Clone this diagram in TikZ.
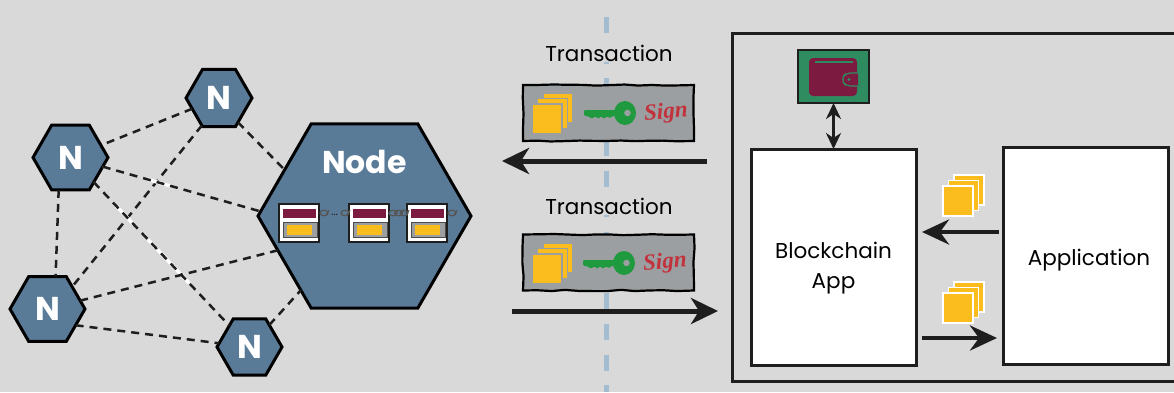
\documentclass[tikz,border=0pt]{standalone}
\usepackage{fontspec}
\setmainfont{Poppins}
\newfontfamily\signfont{Liberation Serif}
\usetikzlibrary{arrows.meta, shapes.geometric, decorations.pathmorphing}
\definecolor{bggrey}{HTML}{D9D9D9}
\definecolor{hexblue}{HTML}{5A7B98}
\definecolor{splitblue}{HTML}{A3BCCF}
\definecolor{linkdark}{HTML}{1E1E1E}
\definecolor{boxgrey}{HTML}{9C9FA1}
\definecolor{docyellow}{HTML}{FBBC1E}
\definecolor{wine}{HTML}{7D1A40}
\definecolor{keygreen}{HTML}{1F9A3E}
\definecolor{walletgreen}{HTML}{2F8C61}
\definecolor{signred}{HTML}{C2323C}
\tikzset{
  hexnode/.style={regular polygon, regular polygon sides=6, draw=black, fill=hexblue, line width=3pt,
    inner sep=0pt, outer sep=0pt, text=white, font=\bfseries\fontsize{33}{33}\selectfont},
  peer/.style={draw=linkdark, line width=2.5pt, dash pattern=on 8pt off 6pt},
  whiteglint/.style={preaction={draw=white, line width=3.5pt, dash pattern=#1}},
  txlabel/.style={fill=bggrey, inner sep=1pt, font=\fontsize{21.5}{24}\selectfont},
  txbox/.style={draw=black, fill=boxgrey, line width=2.2pt, minimum width=171pt, minimum height=56pt,
    inner sep=0pt, outer sep=0pt, decorate, decoration={random steps, segment length=14pt, amplitude=.7pt}},
  appbox/.style={draw=linkdark, fill=white, line width=3pt, inner sep=0pt, outer sep=0pt},
  apptext/.style={align=center, font=\fontsize{21.5}{29.5}\selectfont},
  bigarrow/.style={draw=linkdark, line width=5pt, -{Stealth[length=27pt, width=26pt, inset=8pt]}},
  midarrow/.style={draw=linkdark, line width=4.6pt, -{Stealth[length=27pt, width=25pt, inset=9pt]}},
  pics/stack/.style={code={
    \foreach \d in {11,5.5,0}
      \draw[draw=#1, fill=docyellow, line width=1.2pt] (\d,-\d) rectangle ++(30,30);
  }},
  pics/block/.style={code={
    \draw[draw=linkdark, fill=white, line width=1.2pt] (0,0) rectangle (40,38);
    \fill[wine] (4,5) rectangle (37,14);
    \draw[draw=linkdark!80, fill=boxgrey, line width=1pt] (4,18) rectangle (38,33);
    \fill[docyellow] (8,20.5) rectangle (33,30.5);
  }},
  pics/chainlink/.style={code={
    \foreach \d in {0,...,#1} {
      \draw[draw=linkdark!75, line width=1.2pt] (\d*5.5,0) ellipse (4 and 2.8);
      \draw[draw=linkdark!75, line width=1.2pt] (\d*5.5+1.5,2.8) -- ++(3.5,-5.6);
    }
  }},
  pics/key/.style={code={
    \fill[keygreen, even odd rule] (0,0) ellipse (11 and 12) (2.5,0) circle (3.4);
    \fill[keygreen, rounded corners=1.2pt] (-41,-3) -- (-8,-3) -- (-8,3) -- (-13,3) -- (-15,5.5)
      -- (-18,3) -- (-21,6) -- (-24,3) -- (-27,6) -- (-30,3) -- (-33,6) -- (-36,3.5) -- (-41,2.5) -- cycle;
  }}
}
\begin{document}
\begin{tikzpicture}[x=1pt, y=-1pt]
  \path[use as bounding box, fill=bggrey] (0,0) rectangle (1174,392);
  % split line
  \draw[draw=splitblue, line width=5.5pt, dash pattern=on 16pt off 14.7pt] (606.5,17) -- (606.5,392);

  % peers
  \node[hexnode, minimum size=213pt] (nodehex) at (364.5,216) {};
  \node[hexnode, minimum size=66pt] (peera) at (219,98) {N};
  \node[hexnode, minimum size=75pt] (peerb) at (70.5,157.5) {N};
  \node[hexnode, minimum size=75pt] (peerc) at (47.5,309) {N};
  \node[hexnode, minimum size=65pt] (peerd) at (249.5,347) {N};
  \node[text=white, font=\bfseries\fontsize{31.5}{31.5}\selectfont] (nodetitle) at (364.5,162) {Node};
  \coordinate (hexleft) at (259,211);
  \coordinate (hexlow) at (279,250);
  \coordinate (hexfoot) at (301,290);
  \draw[peer] (peera) -- (peerb);
  \draw[peer] (peera.-52) -- (nodehex.side 2);
  \draw[peer] (peera.-122) -- (peerc.42);
  \draw[peer, whiteglint={on .01pt off 46pt on 25pt off 999pt}] (peerb) -- (hexleft);
  \draw[peer] (peerb.-110) -- (peerc.76);
  \draw[peer, whiteglint={on .01pt off 33pt on 25pt off 21pt on 60pt off 999pt}] (peerb) -- (peerd);
  \draw[peer] (peerc) -- (hexlow);
  \draw[peer] (peerc.-30) -- (peerd.173);
  \draw[peer] (peerd.48) -- (hexfoot);

  % blocks in the node
  \pic at (279,204) {block};
  \pic at (349,204) {block};
  \pic at (407,204) {block};
  \pic at (324,213) {chainlink=0};
  \node[text=linkdark, font=\fontsize{11}{11}\selectfont, inner sep=0pt] (chaindots) at (334.5,215) {...};
  \pic at (345,213) {chainlink=0};
  \pic at (393,213) {chainlink=2};
  \pic at (452,213) {chainlink=0};

  % transactions
  \node[txlabel] (txtopl) at (609,53) {Transaction};
  \node[txlabel] (txlowl) at (609,206) {Transaction};
  \node[txbox] (txtop) at (608.5,113) {};
  \node[txbox] (txlow) at (608.5,262.5) {};
  \pic at (532,104) {stack=boxgrey};
  \pic at (532,254) {stack=boxgrey};
  \pic at (625,113) {key};
  \pic at (624,263) {key};
  \node[text=signred, font=\signfont\itshape\bfseries\fontsize{23}{23}\selectfont, rotate=4] (signtop) at (666,113) {Sign};
  \node[text=signred, font=\signfont\itshape\bfseries\fontsize{23}{23}\selectfont, rotate=4] (signlow) at (665,263) {Sign};
  \coordinate (outfrom) at (707,161);
  \coordinate (outto) at (502,161);
  \coordinate (infrom) at (512,311);
  \coordinate (into) at (718,311);
  \draw[bigarrow] (outfrom) -- (outto);
  \draw[bigarrow] (infrom) -- (into);

  % client side
  \draw[draw=linkdark, line width=3pt] (1174,33) -| (732.5,381) -- (1174,381);
  \node[appbox, minimum width=165pt, minimum height=216pt] (chainapp) at (833.5,257) {};
  \node[appbox, minimum width=165pt, minimum height=217pt] (clientapp) at (1085.5,255.5) {};
  \node[apptext] (chaintext) at (833.5,268) {Blockchain\\App};
  \node[apptext] (clienttext) at (1089,260.5) {Application};
  \node[draw=linkdark, fill=walletgreen, line width=2pt, minimum width=71pt, minimum height=53pt,
    inner sep=0pt, outer sep=0pt] (wallet) at (833.5,76.5) {};
  \fill[wine, rounded corners=4pt] (809,58) rectangle (857,96);
  \draw[draw=walletgreen, line width=1.2pt] (815,62) -- (853,62);
  \draw[draw=walletgreen, fill=wine, line width=1.2pt, rounded corners=5pt] (858,73) -- (846,73) -- (841,79.5) -- (846,86) -- (858,86);
  \fill[walletgreen] (849,79.5) circle (1.6);
  \draw[draw=linkdark, line width=2.4pt, {Stealth[length=16pt, width=15pt, inset=5pt]}-{Stealth[length=16pt, width=15pt, inset=5pt]}] (wallet) -- (chainapp);
  \pic at (943,186) {stack=white};
  \pic at (943,293) {stack=white};
  \path (clientapp.west) ++(-4,-23.5) coordinate (tochainfrom);
  \path (chainapp.east) ++(6,-25) coordinate (tochainto);
  \path (chainapp.east) ++(6,81) coordinate (toappfrom);
  \path (clientapp.west) ++(-6,82.5) coordinate (toappto);
  \draw[midarrow] (tochainfrom) -- (tochainto);
  \draw[midarrow] (toappfrom) -- (toappto);
\end{tikzpicture}
\end{document}
